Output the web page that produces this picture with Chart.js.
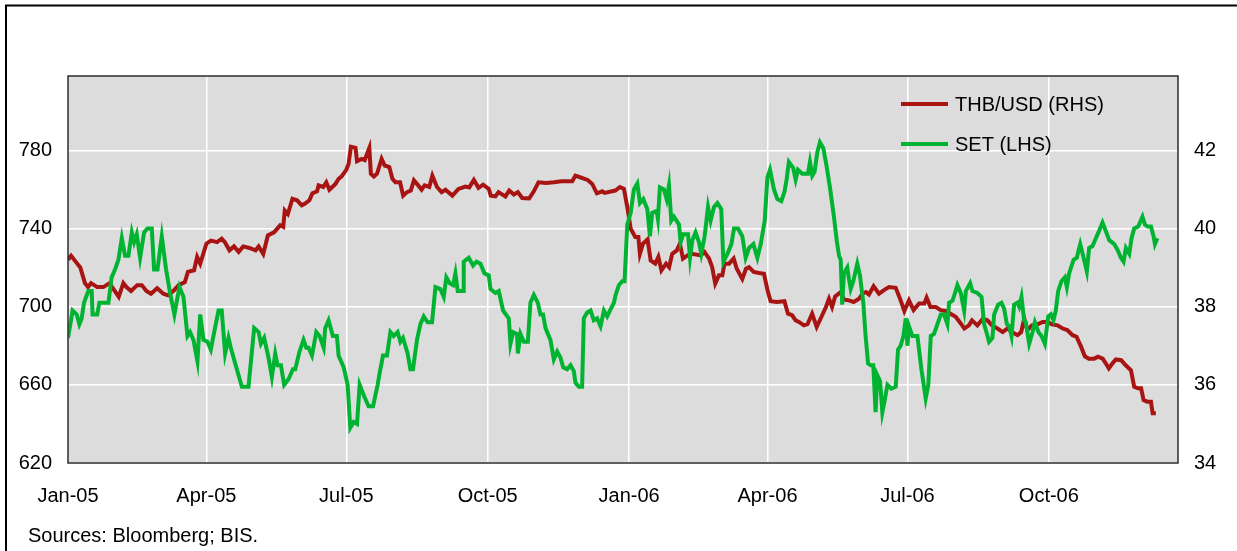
<!DOCTYPE html>
<html>
<head>
<meta charset="utf-8">
<script src="https://cdn.jsdelivr.net/npm/chart.js@4.4.1/dist/chart.umd.min.js"></script>
<style>
  body { margin: 0; background: #fff; }
  canvas { display: block; }
</style>
</head>
<body>
<canvas id="thb-set-chart" width="1237" height="551"></canvas>
<script>
// days counted from 1 Jan 2005
const monthDays = [0, 90, 181, 273, 365, 455, 546, 638];
const monthLabels = ['Jan-05', 'Apr-05', 'Jul-05', 'Oct-05', 'Jan-06', 'Apr-06', 'Jul-06', 'Oct-06'];
const leftTicks = [620, 660, 700, 740, 780];
const rightTicks = [34, 36, 38, 40, 42];

// THB/USD, right-hand scale
const thbDays = [0, 2, 6, 8, 11, 13, 15, 19, 23, 27, 33, 36, 38, 41, 45, 48, 51, 54, 58, 62, 65, 69, 72, 76, 78, 82, 84, 86, 88, 90, 93, 97, 100, 102, 105, 108, 111, 114,
  118, 122, 124, 127, 130, 134, 138, 140, 141, 143, 146, 149, 152, 154, 157, 159, 162, 163, 166, 168, 170, 174, 176, 178, 181, 182.5, 184, 187, 188, 191, 193, 196, 197, 199, 201, 204, 206, 209, 211, 213, 216, 218, 220.5, 223, 225, 227, 230, 232,
  235, 237, 240, 243, 245.5, 250, 254, 258.5, 261, 264, 267, 270, 273.7, 275, 278, 280, 284.5, 287, 290, 292.6, 295.4, 300, 303, 306, 311, 316, 321, 325, 328, 330, 333, 338, 341, 344, 347.5,
  349, 356, 359, 361.6, 364, 366, 369, 371, 372, 374, 377, 379, 382, 384, 386, 389, 391, 393, 396, 398, 400, 403, 406, 411.5, 414, 417, 419, 421, 423.4, 425.6, 427, 430, 433, 435, 438.6, 441, 443, 446, 449.5, 452.7, 455, 457, 461,
  466, 468.3, 471, 473.3, 475.4, 478.7, 481, 484, 487, 489.5, 493, 495, 497, 499, 502.6, 504.7, 508, 511, 514.5, 516.7, 519, 521, 524, 527.5, 531, 534, 538.4, 541.6, 544, 547, 550, 553.6, 557, 558.5, 561, 564.4, 567.7, 571, 574, 577.4, 580.7,
  583, 586, 588, 591.5, 595, 598, 601, 604.6, 608, 611, 614, 617.6, 620, 622, 624, 627, 630.6, 634, 637, 640, 643.6, 647, 650, 653.4, 656, 659, 661.4, 664, 667.5, 670, 673, 675, 677, 679.4, 681.6, 685, 688, 691.4, 693.5, 696, 698, 699.6, 702, 704.4, 705.5, 707.6];
const thbValues = [39.2, 39.3, 39.1, 39.0, 38.6, 38.5, 38.6, 38.5, 38.5, 38.6, 38.25, 38.6, 38.5, 38.4, 38.55, 38.55, 38.4, 38.33, 38.47, 38.33, 38.29, 38.42, 38.55, 38.63, 38.89, 38.93, 39.27, 39.1, 39.35, 39.61, 39.69, 39.65, 39.74, 39.65, 39.44, 39.54, 39.4, 39.54,
  39.5, 39.44, 39.54, 39.35, 39.82, 39.9, 40.08, 40.04, 40.46, 40.37, 40.76, 40.72, 40.59, 40.63, 40.72, 40.9, 40.95, 41.1, 41.06, 41.18, 40.99, 41.14, 41.27, 41.33, 41.5, 41.65, 42.09, 42.06, 41.72, 41.78, 41.75, 42.06, 41.4, 41.33, 41.4, 41.78, 41.61, 41.57, 41.27, 41.18, 41.18, 40.84, 40.93, 40.97, 41.23, 41.14, 40.99, 41.1,
  41.06, 41.35, 41.06, 40.93, 40.99, 40.84, 41.01, 41.07, 41.05, 41.24, 41.04, 41.12, 41.01, 40.84, 40.82, 40.93, 40.82, 40.97, 40.87, 40.93, 40.78, 40.77, 40.95, 41.18, 41.16, 41.18, 41.21, 41.21, 41.21, 41.35, 41.31, 41.24, 41.14, 40.9, 40.95,
  40.91, 40.97, 41.06, 41.01, 40.5, 39.99, 39.78, 39.78, 39.35, 39.61, 39.72, 39.18, 39.1, 39.27, 38.93, 39.1, 39.01, 39.35, 39.44, 39.61, 39.23, 39.31, 39.35, 39.31, 39.4, 39.23, 39.01, 38.59, 38.8, 38.8, 39.1, 39.1, 39.23, 38.97, 38.71, 38.97, 39.01, 38.89, 38.86, 38.84, 38.42, 38.14, 38.12,
  38.14, 37.82, 37.78, 37.65, 37.61, 37.52, 37.55, 37.82, 37.48, 37.69, 37.99, 38.2, 37.99, 38.26, 38.37, 38.18, 38.16, 38.12, 38.2, 38.33, 38.37, 38.31, 38.52, 38.33, 38.43, 38.5, 38.48, 38.16, 37.89, 38.16, 37.91, 38.08, 38.08, 38.23, 37.99, 37.99, 37.91, 37.89, 37.82, 37.74, 37.57,
  37.44, 37.52, 37.65, 37.52, 37.69, 37.65, 37.52, 37.44, 37.35, 37.44, 37.35, 37.27, 37.35, 37.69, 37.4, 37.52, 37.55, 37.61, 37.61, 37.55, 37.52, 37.44, 37.4, 37.27, 37.23, 36.97, 36.73, 36.67, 36.67, 36.72, 36.67, 36.55, 36.42, 36.55, 36.65, 36.63, 36.5, 36.37, 35.95, 35.91, 35.91, 35.61, 35.57, 35.57, 35.27, 35.27];

// SET index, left-hand scale
const setDays = [0, 3, 5.7, 7.4, 8.9, 10.4, 13.2, 15.4, 16, 19, 20.4, 23, 26.3, 28.4, 30.6, 32.8, 35, 37.1, 39.3, 41.5, 43, 44.7, 46.9, 49.5, 51.7, 54.5, 56, 58.2, 61, 63.8, 66.4, 69.2, 70.8, 72.5, 75.1, 77.7, 79.4, 81.6, 84.2, 86, 88.1, 90.7, 92.9, 95.1, 97.9, 100, 102.2, 104.4, 105.9, 108.7, 110.9, 113.1,
  117.4, 121.1, 124, 125.5, 127.6, 130.4, 132.6, 134.8, 136.3, 138.5, 140.6, 143.5, 146.3, 147.8, 150.6, 153.2, 155, 156.5, 158.7, 161.5, 163.6, 166.3, 167.3, 169.5, 172.3, 174.9, 176, 179.3, 181.9, 183.6, 185.8, 188, 189.7, 192.7, 195.5, 198.4, 201.4, 202.7, 204.9, 207.5, 209.7, 211.8, 214.4, 216.2, 217.9, 220.9, 222.7, 224.4, 227, 229.2,
  231.4, 233.9, 236.8, 239, 242.2, 244.4, 246.1, 248.3, 250.5, 252, 253.5, 257, 257.4, 260.7, 263.5, 265.7, 268.3, 270.9, 273.7, 274.8, 278, 280.2, 283, 286.7, 287.8, 289.5, 292.1, 292.6, 294.3, 296.5, 299.1, 300.8, 303, 305.6, 307.3, 309, 310.6, 313.8, 316, 318.2, 320.3, 322.1, 324.7, 326.9, 329, 330.1, 332.3, 334.4, 335.5, 337.7, 339.9, 342, 344.2, 346.4,
  348.6, 350.7, 352.5, 355.1, 356.2, 358.3, 360.5, 362, 363.8, 366, 368.1, 370.3, 372, 374.2, 376.8, 378.5, 380, 382.9, 383.7, 385, 387.6, 389.4, 390.9, 392.4, 394.1, 397.4, 398.5, 400.2, 403.3, 404.6, 406.1, 408.2, 410.4, 411.9, 414.1, 416.3, 418, 420.2, 422.4, 424.9, 426.3, 428.9, 431.5, 433.2, 435.8, 438.6, 440.8, 443, 445.8, 448.4, 450.6, 453.2, 454.9, 456.6, 459.2, 461.4, 464,
  466.1, 467.4, 468.9, 471.7, 473.3, 474.8, 477.6, 481.3, 482.6, 484.1, 485.6, 487.4, 489.1, 491.3, 493.4, 495.6, 498.2, 500, 501.5, 502.6, 503.6, 504.7, 506.9, 508, 509.1, 510.8, 513.4, 515.1, 517.3, 518.8, 520.4, 522.1, 523.8, 525.3, 526.4, 528.2, 529.7, 531.2, 533, 535.5, 538.4, 539.9, 541.6, 543.4, 544.9, 546, 547, 549.2, 552.5, 555.1, 557.9, 559.6, 561.2, 563.3, 565.5, 567.7, 569.8, 572, 573.1, 575.3, 577.4, 578.5, 580.7,
  582.9, 584, 586.8, 588.3, 591.5, 594.2, 595.9, 598.1, 599.1, 601.3, 602.4, 605, 607.2, 608.9, 610.7, 612.2, 613.7, 615.4, 617.6, 618.7, 620.2, 621.9, 623, 625.2, 627.4, 628.9, 631.2, 633.2, 635.4, 637.6, 639.3, 641, 642.5, 644.1, 646.2, 648.4, 649.7, 651.2, 654.1, 656.2, 657.1, 658.4, 660.6, 662.7, 664.2, 666.4, 668.6, 670.8, 672.9, 674.4, 677.3, 680.5, 682.7, 684.9, 686.6, 688.1, 690.3, 691.8, 693.5, 696.1, 698.9, 700.5, 702.2, 704.4, 706.1, 707, 708.6];
const setValues = [684, 698, 696, 691, 694, 702, 708, 708, 696, 696, 702, 702, 702, 715, 719, 724, 735, 726, 726, 738, 733, 737, 725, 738, 740, 740, 719, 719, 736, 719, 707, 696, 703, 710, 705, 685, 687, 683, 672, 696, 683, 682, 678, 687, 698, 698, 676, 684, 679, 671, 665, 659,
  659, 689, 687, 681, 684, 674, 664, 676, 670, 670, 660, 663, 668, 668, 677, 683, 679, 679, 675, 687, 685, 679, 689, 693, 685, 685, 675, 669, 660, 638, 641, 640, 660, 654, 649, 649, 660, 666, 675, 675, 687, 685, 687, 682, 684, 676, 668, 668, 683, 691,
  695, 692, 692, 710, 709, 705, 715, 712, 711, 717, 708, 708, 723, 725, 721, 723, 722, 717, 716, 709, 707, 708, 698, 694, 681, 687, 686, 676, 686, 682, 682, 702, 706, 702, 696, 696, 689, 683, 673, 677, 674, 669, 668, 670, 667, 661, 659, 659, 694, 697, 698, 693, 694, 690,
  698, 695, 698, 702, 706, 711, 713, 713, 742, 748, 760, 763, 753, 755, 750, 736, 748, 749, 745, 761, 760, 755, 762, 744, 746, 742, 733, 737, 737, 725, 734, 738, 733, 727, 736, 751, 744, 751, 753, 750, 723, 727, 732, 740, 740, 736, 725, 730, 732, 725, 732, 744, 766, 770, 760, 755, 754,
  759, 765, 774, 771, 765, 770, 768, 768, 774, 767, 769, 779, 784, 781, 772, 761, 746, 734, 726, 724, 701, 717, 720, 714, 709, 713, 722, 716, 702, 685, 671, 670, 670, 646, 665, 662, 646, 652, 660, 658, 659, 678, 680, 685, 694, 680, 690, 685, 685, 668, 653, 660, 685, 686, 691, 696, 696, 691, 702, 703, 708, 711, 707,
  698, 708, 712, 708, 707, 705, 691, 685, 682, 684, 696, 701, 702, 699, 691, 690, 685, 701, 702, 700, 705, 693, 692, 681, 687, 692, 687, 685, 681, 695, 696, 693, 698, 708, 713, 715, 710, 717, 724, 725, 728, 732, 725, 718, 730, 731, 735, 739, 743, 740, 734, 732, 729, 725, 723, 730, 727, 735, 740, 741, 746, 742, 741, 741, 736, 732, 735];

const FONT = 'Liberation Sans, Arial, sans-serif';
const RED = 'rgb(168, 20, 18)';
const GREEN = 'rgb(0, 180, 50)';

const pairs = (xs, ys) => xs.map((x, i) => ({ x: x, y: ys[i] }));

const framePlugin = {
    id: 'frame',
    beforeDraw(chart) {
        const c = chart.ctx;
        const a = chart.chartArea;
        c.save();
        c.fillStyle = '#fff';
        c.fillRect(0, 0, chart.width, chart.height);
        c.fillStyle = '#dcdcdc';
        c.fillRect(a.left, a.top, a.right - a.left, a.bottom - a.top);
        c.restore();
    },
    afterDraw(chart) {
        const c = chart.ctx;
        const a = chart.chartArea;
        c.save();
        // plot border
        c.strokeStyle = '#2b2b2b';
        c.lineWidth = 1.5;
        c.strokeRect(a.left, a.top, a.right - a.left, a.bottom - a.top);
        // outer frame (left and top only)
        c.strokeStyle = '#000';
        c.lineWidth = 2;
        c.beginPath();
        c.moveTo(6, chart.height);
        c.lineTo(6, 5.5);
        c.lineTo(chart.width, 5.5);
        c.stroke();
        // legend
        const items = [['THB/USD (RHS)', RED], ['SET (LHS)', GREEN]];
        c.font = '20px ' + FONT;
        c.textBaseline = 'middle';
        c.textAlign = 'left';
        items.forEach((it, i) => {
            const y = 104 + i * 40;
            c.strokeStyle = it[1];
            c.lineWidth = 4;
            c.beginPath();
            c.moveTo(901, y);
            c.lineTo(948, y);
            c.stroke();
            c.fillStyle = '#000';
            c.fillText(it[0], 955, y + 1);
        });
        // source note
        c.fillText('Sources: Bloomberg; BIS.', 28, 536);
        c.restore();
    }
};

const ctx = document.getElementById('thb-set-chart').getContext('2d');
const myChart = new Chart(ctx, {
    type: 'line',
    data: {
        datasets: [{
            label: 'THB/USD (RHS)',
            data: pairs(thbDays, thbValues),
            yAxisID: 'y1',
            borderColor: RED,
            backgroundColor: 'transparent',
            borderWidth: 4,
            pointRadius: 0,
            tension: 0,
            order: 1
        }, {
            label: 'SET (LHS)',
            data: pairs(setDays, setValues),
            yAxisID: 'y',
            borderColor: GREEN,
            backgroundColor: 'transparent',
            borderWidth: 4,
            pointRadius: 0,
            tension: 0,
            order: 0
        }]
    },
    options: {
        responsive: false,
        animation: false,
        devicePixelRatio: 1,
        layout: { padding: { top: 76, left: 0, right: 0, bottom: 0 } },
        plugins: {
            legend: { display: false },
            tooltip: { enabled: false }
        },
        scales: {
            x: {
                type: 'linear',
                min: 0,
                max: 722,
                afterBuildTicks: axis => { axis.ticks = monthDays.map(v => ({ value: v })); },
                afterFit: axis => { axis.height = 88; },
                grid: { color: '#fff', lineWidth: 1.5, drawTicks: false },
                border: { display: false },
                ticks: {
                    autoSkip: false,
                    maxRotation: 0,
                    padding: 21,
                    color: '#000',
                    font: { family: FONT, size: 20 },
                    callback: v => monthLabels[monthDays.indexOf(v)]
                }
            },
            y: {
                position: 'left',
                min: 620,
                max: 818,
                afterBuildTicks: axis => { axis.ticks = leftTicks.map(v => ({ value: v })); },
                afterFit: axis => { axis.width = 68; },
                grid: { color: '#fff', lineWidth: 1.5, drawTicks: false },
                border: { display: false },
                ticks: { padding: 16, color: '#000', font: { family: FONT, size: 20 } }
            },
            y1: {
                position: 'right',
                min: 34,
                max: 43.9,
                afterBuildTicks: axis => { axis.ticks = rightTicks.map(v => ({ value: v })); },
                afterFit: axis => { axis.width = 59; },
                grid: { display: false, drawTicks: false },
                border: { display: false },
                ticks: { padding: 16, color: '#000', font: { family: FONT, size: 20 } }
            }
        }
    },
    plugins: [framePlugin]
});
</script>
</body>
</html>
